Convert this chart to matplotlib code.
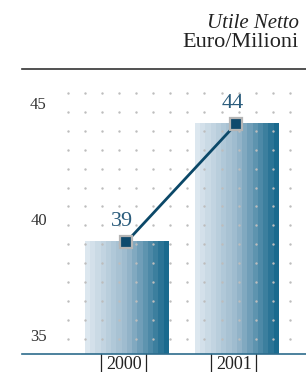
import numpy as np
import matplotlib.pyplot as plt
from matplotlib.colors import LinearSegmentedColormap

# Utile Netto - Euro/Milioni
anni = ['2000', '2001']
utile = [39.1, 44.2]
etichette = ['39', '44']
y_ticks = [35, 40, 45]

plt.rcParams['font.family'] = ['Liberation Serif', 'DejaVu Serif']

fig = plt.figure(figsize=(3.06, 3.72), dpi=100)
W, H = 306, 372
ax = fig.add_axes([22 / W, (H - 354) / H, 1 - 22 / W, (354 - 80) / H])

ymin, ymax = 34.27, 46.08
x = np.arange(len(anni))

# barre con sfumatura
cmap = LinearSegmentedColormap.from_list('blu', ['#dce7ef', '#9bb9cd', '#1a6a8e'])
grad = np.linspace(0, 1, 16).reshape(1, -1)
altezze = [v - ymin for v in utile]
barre = ax.bar(x, altezze, width=0.755, bottom=ymin, color='none', zorder=1)
for b in barre:
    x0, w = b.get_x(), b.get_width()
    ax.imshow(grad, cmap=cmap, aspect='auto', interpolation='nearest',
              extent=[x0, x0 + w, ymin, b.get_y() + b.get_height()], zorder=1)
ax.set_xlim(-0.95, 1.632)
ax.set_ylim(ymin, ymax)

# griglia a puntini
gx = np.linspace(-0.535, -0.535 + 13 * 0.1555, 14)
gy = np.linspace(45.52, 45.52 - 13 * 0.815, 14)
GX, GY = np.meshgrid(gx, gy)
ax.scatter(GX.ravel(), GY.ravel(), s=3, color='#bdbdbd', linewidths=0, zorder=2)

# linea con marcatori
ax.plot(x, utile, color='#0b4868', lw=2, zorder=3)
ax.plot(x, utile, ls='none', marker='s', ms=9, mfc='#0f4a6d', mec='#b5b5b5',
        mew=1.6, zorder=4)
for xi, v, t in zip(x, utile, etichette):
    ax.annotate(t, (xi, v), xytext=(-3, 8), textcoords='offset points',
                ha='center', va='bottom', fontsize=16, color='#2a5c7c')

# assi
for s in ['top', 'right', 'left']:
    ax.spines[s].set_visible(False)
ax.spines['bottom'].set_color('#2d6c8c')
ax.spines['bottom'].set_linewidth(1.2)
ax.set_yticks([])
ax.set_xticks([])
for t in y_ticks:
    ax.text((38.5 - 22) / 284, t, str(t), transform=ax.get_yaxis_transform(),
            ha='center', va='center', fontsize=12, color='#333333')

# etichette anni con barrette
for xi, a in zip(x, anni):
    xc = xi - 0.025
    ax.text(xc, -0.056, a, transform=ax.get_xaxis_transform(), ha='center',
            va='baseline', fontsize=13, color='#222222')
    for dx in (-0.205, 0.205):
        ax.plot([xc + dx, xc + dx], [0, -0.07], transform=ax.get_xaxis_transform(),
                color='#222222', lw=0.9, clip_on=False)

# titolo e riga nera
fig.text(299 / W, 1 - 28 / H, 'Utile Netto', ha='right', va='baseline',
         fontsize=15, style='italic', color='#222222')
fig.text(299 / W, 1 - 47 / H, 'Euro/Milioni', ha='right', va='baseline',
         fontsize=16, color='#222222')
fig.add_artist(plt.Line2D([22 / W, 1], [1 - 69 / H, 1 - 69 / H], color='#333333', lw=1.2))

fig.savefig('out.png', dpi=100)
